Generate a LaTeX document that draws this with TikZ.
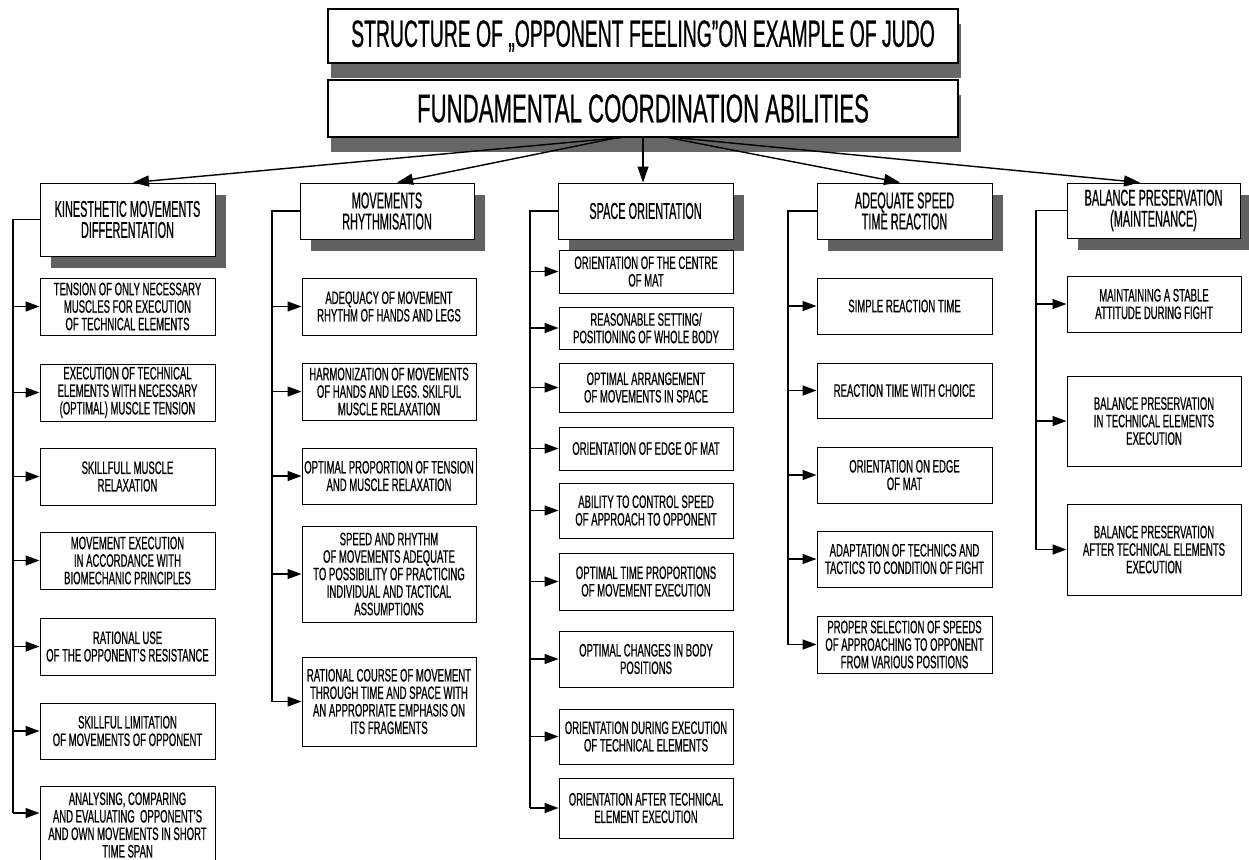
\documentclass[tikz,border=0pt]{standalone}
\usepackage{fontspec}
\setmainfont{Liberation Sans}
\newfontfamily\titlefont[FakeStretch=0.51,FakeBold=0.5]{Liberation Sans}
\newfontfamily\fcafont[FakeStretch=0.555,FakeBold=0.5]{Liberation Sans}
\newfontfamily\hfont[FakeStretch=0.475,FakeBold=0.6]{Liberation Sans}
\newfontfamily\cfont[FakeStretch=0.53,FakeBold=0.6]{Liberation Sans}
\usetikzlibrary{arrows.meta,shadows}
\begin{document}
\begin{tikzpicture}[x=1pt,y=-1pt,
  topbox/.style={draw, line width=1.1pt, fill=white, inner sep=0pt, align=center,
    drop shadow={shadow xshift=3pt, shadow yshift=-15pt, fill=black!60, opacity=1}},
  headbox/.style={draw, line width=1pt, fill=white, inner sep=0pt, align=center,
    font=\hfont\fontsize{23}{21}\selectfont,
    drop shadow={shadow xshift=11pt, shadow yshift=-12pt, fill=black!62, opacity=1}},
  cbox/.style={draw, line width=1pt, fill=white, inner sep=0pt, align=center,
    font=\cfont\fontsize{18}{17.5}\selectfont},
  trunk/.style={line width=1.5pt},
  arr/.style={line width=1.5pt, -{Triangle[length=14pt,width=10pt]}},
  tarr/.style={line width=1.4pt, -{Triangle[length=16pt,width=11pt]}}
]
\useasboundingbox (0,0) rectangle (1249,859);

% top boxes
\node[topbox, minimum width=630, minimum height=54, font=\titlefont\fontsize{38}{38}\selectfont] (title) at (643,36)
  {STRUCTURE OF „OPPONENT FEELING”ON EXAMPLE OF JUDO};
\node[topbox, minimum width=630, minimum height=57, font=\fcafont\fontsize{40}{40}\selectfont] (fca) at (643,108.5)
  {FUNDAMENTAL COORDINATION ABILITIES};

% headers
\node[headbox, minimum width=175, minimum height=73] (kin) at (127.5,219.5) {KINESTHETIC MOVEMENTS\\DIFFERENTATION};
\node[headbox, minimum width=174, minimum height=56] (mov) at (387,211) {MOVEMENTS\\RHYTHMISATION};
\node[headbox, minimum width=175, minimum height=56] (spa) at (645.5,211) {SPACE ORIENTATION};
\node[headbox, minimum width=175, minimum height=56] (ade) at (904.5,211) {ADEQUATE SPEED\\TIME REACTION};
\node[headbox, minimum width=173, minimum height=55] (bal) at (1153.5,210.5) {BALANCE PRESERVATION\\(MAINTENANCE)};

% arrows from fundamental box
\draw[tarr] ([xshift=-21pt]fca.south) -- ([xshift=5.5pt]kin.north);
\draw[tarr] ([xshift=-25pt]fca.south) -- ([xshift=10pt]mov.north);
\draw[tarr] (fca.south) -- (fca.south |- spa.north);
\draw[tarr] ([xshift=25pt]fca.south) -- ([xshift=-4.5pt]ade.north);
\draw[tarr] ([xshift=32pt]fca.south) -- ([xshift=-13.5pt]bal.north);

% kinesthetic children
\node[cbox, minimum width=175, minimum height=57] (k1) at (127.5,306.5) {TENSION OF ONLY NECESSARY\\MUSCLES FOR EXECUTION\\OF TECHNICAL ELEMENTS};
\node[cbox, minimum width=175, minimum height=57] (k2) at (127.5,392.5) {EXECUTION OF TECHNICAL\\ELEMENTS WITH NECESSARY\\(OPTIMAL) MUSCLE TENSION};
\node[cbox, minimum width=175, minimum height=57] (k3) at (127.5,476.5) {SKILLFULL MUSCLE\\RELAXATION};
\node[cbox, minimum width=175, minimum height=57] (k4) at (127.5,560.5) {MOVEMENT EXECUTION\\IN ACCORDANCE WITH\\BIOMECHANIC PRINCIPLES};
\node[cbox, minimum width=175, minimum height=57] (k5) at (127.5,646.5) {RATIONAL USE\\OF THE OPPONENT’S RESISTANCE};
\node[cbox, minimum width=175, minimum height=56] (k6) at (127.5,731) {SKILLFUL LIMITATION\\OF MOVEMENTS OF OPPONENT};
\node[cbox, minimum width=175, minimum height=78] (k7) at (127.5,825) {ANALYSING, COMPARING\\AND EVALUATING~ OPPONENT’S\\AND OWN MOVEMENTS IN SHORT\\TIME SPAN};
\coordinate (kt) at (13,813);
\draw[trunk] (kin.west) -| (kt);
\foreach \c in {k1,k2,k3,k4,k5,k6} \draw[arr] (kt |- \c.west) -- (\c.west);
\draw[arr] (kt) -- (kt -| k7.west);

% movements children
\node[cbox, minimum width=174, minimum height=57] (m1) at (389,306.5) {ADEQUACY OF MOVEMENT\\RHYTHM OF HANDS AND LEGS};
\node[cbox, minimum width=174, minimum height=57] (m2) at (389,391.5) {HARMONIZATION OF MOVEMENTS\\OF HANDS AND LEGS. SKILFUL\\MUSCLE RELAXATION};
\node[cbox, minimum width=174, minimum height=56] (m3) at (389,476) {OPTIMAL PROPORTION OF TENSION\\AND MUSCLE RELAXATION};
\node[cbox, minimum width=174, minimum height=96] (m4) at (389,574) {SPEED AND RHYTHM\\OF MOVEMENTS ADEQUATE\\TO POSSIBILITY OF PRACTICING\\INDIVIDUAL AND TACTICAL\\ASSUMPTIONS};
\node[cbox, minimum width=174, minimum height=89] (m5) at (389,701.5) {RATIONAL COURSE OF MOVEMENT\\THROUGH TIME AND SPACE WITH\\AN APPROPRIATE EMPHASIS ON\\ITS FRAGMENTS};
\coordinate (mt) at (272,701.5);
\draw[trunk] (mov.west) -| (mt);
\foreach \c in {m1,m2,m3,m4,m5} \draw[arr] (mt |- \c.west) -- (\c.west);

% space children
\node[cbox, minimum width=174, minimum height=43] (s1) at (646,271.5) {ORIENTATION OF THE CENTRE\\OF MAT};
\node[cbox, minimum width=174, minimum height=42] (s2) at (646,328) {REASONABLE SETTING/\\POSITIONING OF WHOLE BODY};
\node[cbox, minimum width=174, minimum height=49] (s3) at (646,387.5) {OPTIMAL ARRANGEMENT\\OF MOVEMENTS IN SPACE};
\node[cbox, minimum width=174, minimum height=43] (s4) at (646,448.5) {ORIENTATION OF EDGE OF MAT};
\node[cbox, minimum width=174, minimum height=55] (s5) at (646,510.5) {ABILITY TO CONTROL SPEED\\OF APPROACH TO OPPONENT};
\node[cbox, minimum width=174, minimum height=57] (s6) at (646,581.5) {OPTIMAL TIME PROPORTIONS\\OF MOVEMENT EXECUTION};
\node[cbox, minimum width=174, minimum height=56] (s7) at (646,659) {OPTIMAL CHANGES IN BODY\\POSITIONS};
\node[cbox, minimum width=174, minimum height=55] (s8) at (646,736.5) {ORIENTATION DURING EXECUTION\\OF TECHNICAL ELEMENTS};
\node[cbox, minimum width=174, minimum height=60] (s9) at (646,808) {ORIENTATION AFTER TECHNICAL\\ELEMENT EXECUTION};
\coordinate (st) at (530,808);
\draw[trunk] (spa.west) -| (st);
\foreach \c in {s1,s2,s3,s4,s5,s6,s7,s8,s9} \draw[arr] (st |- \c.west) -- (\c.west);

% adequate speed children
\node[cbox, minimum width=175, minimum height=56] (a1) at (904.5,306) {SIMPLE REACTION TIME};
\node[cbox, minimum width=175, minimum height=55] (a2) at (904.5,390.5) {REACTION TIME WITH CHOICE};
\node[cbox, minimum width=175, minimum height=56] (a3) at (904.5,475) {ORIENTATION ON EDGE\\OF MAT};
\node[cbox, minimum width=175, minimum height=56] (a4) at (904.5,559) {ADAPTATION OF TECHNICS AND\\TACTICS TO CONDITION OF FIGHT};
\node[cbox, minimum width=175, minimum height=57] (a5) at (904.5,644.5) {PROPER SELECTION OF SPEEDS\\OF APPROACHING TO OPPONENT\\FROM VARIOUS POSITIONS};
\coordinate (at) at (788,644.5);
\draw[trunk] (ade.west) -| (at);
\foreach \c in {a1,a2,a3,a4,a5} \draw[arr] (at |- \c.west) -- (\c.west);

% balance children
\node[cbox, minimum width=174, minimum height=56] (b1) at (1154,304) {MAINTAINING A STABLE\\ATTITUDE DURING FIGHT};
\node[cbox, minimum width=174, minimum height=90] (b2) at (1154,421) {BALANCE PRESERVATION\\IN TECHNICAL ELEMENTS\\EXECUTION};
\node[cbox, minimum width=174, minimum height=91] (b3) at (1154,549.5) {BALANCE PRESERVATION\\AFTER TECHNICAL ELEMENTS\\EXECUTION};
\coordinate (bt) at (1036,549.5);
\draw[trunk] (bal.west) -| (bt);
\foreach \c in {b1,b2,b3} \draw[arr] (bt |- \c.west) -- (\c.west);
\end{tikzpicture}
\end{document}
